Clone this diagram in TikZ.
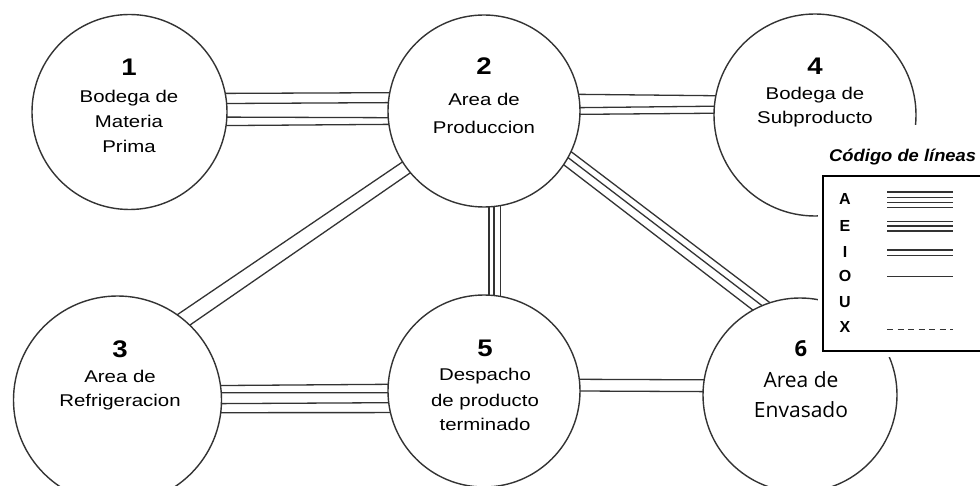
\documentclass[tikz,border=0pt]{standalone}
\usepackage{fontspec}
\setmainfont{Liberation Sans}
\newfontfamily\wfont[FakeStretch=1.2]{Liberation Sans}
\newfontfamily\nfont[FakeStretch=1.15]{Liberation Sans}
\newfontfamily\sfont{Open Sans}
\newfontfamily\tfont[FakeStretch=1.08]{Liberation Sans}
\definecolor{lc}{HTML}{333333}
\begin{document}
\begin{tikzpicture}[x=1pt,y=-1pt,
  area/.style={circle,draw=lc,line width=1.4pt,fill=white,inner sep=0pt,outer sep=0pt},
  conn/.style={draw=lc,line width=1.3pt},
  legline/.style={draw=lc,line width=1.2pt},
  num/.style={anchor=base,inner sep=0pt,font=\nfont\bfseries\fontsize{24}{24}\selectfont},
  lbl/.style={anchor=base,inner sep=0pt,font=\wfont\fontsize{17}{17}\selectfont},
  sixnum/.style={anchor=base,inner sep=0pt,font=\sfont\bfseries\fontsize{22}{22}\selectfont},
  sixlbl/.style={anchor=base,inner sep=0pt,font=\sfont\fontsize{21}{21}\selectfont},
  letter/.style={anchor=base,inner sep=0pt,font=\bfseries\fontsize{16}{16}\selectfont},
  legbox/.style={draw=black,line width=2.2pt,fill=white,inner sep=0pt,outer sep=0pt,anchor=north west}]
\useasboundingbox (0,0) rectangle (980,486);
\clip (0,0) rectangle (980,486);
\fill[white] (0,0) rectangle (980,486);

% areas
\node[area,minimum size=195pt] (n1) at (129.5,112) {};
\node[area,minimum size=192pt] (n2) at (484,111) {};
\node[area,minimum size=202pt] (n4) at (815,115) {};
\node[area,minimum size=208pt] (n3) at (117.5,400) {};
\node[area,minimum size=192pt] (n5) at (484,391) {};
\node[area,minimum size=194pt] (n6) at (800,395) {};

% 1-2 : A (4 lines)
\draw[conn] (n1.11) -- (n2.169);
\draw[conn] (n1.5) -- (n2.175);
\draw[conn] (n1.-3) -- (n2.184);
\draw[conn] (n1.-8) -- (n2.188);
% 2-4 : E (3 lines)
\draw[conn] (n2.10) -- (n4.169);
\draw[conn] (n2.2) -- (n4.175);
\draw[conn] (n2.-2) -- (n4.179);
% 2-5 : E (3 lines)
\draw[conn] (n2.-87) -- (n5.87);
\draw[conn] (n2.-84) -- (n5.84);
\draw[conn] (n2.-80) -- (n5.80);
% 2-3 : I (2 lines)
\draw[conn] (n2.212) -- (n3.55);
\draw[conn] (n2.220) -- (n3.46);
% 2-6 : E (3 lines)
\draw[conn] (n2.-25) -- (n6.108);
\draw[conn] (n2.-29) -- (n6.113);
\draw[conn] (n2.-34) -- (n6.119);
% 3-5 : A (4 lines)
\draw[conn] (n3.8) -- (n5.176);
\draw[conn] (n3.4) -- (n5.181);
\draw[conn] (n3.-2) -- (n5.187);
\draw[conn] (n3.-7) -- (n5.193);
% 5-6 : I (2 lines)
\draw[conn] (n5.7) -- (n6.171);
\draw[conn] (n5.0) -- (n6.178);

% texts
\node[num] (t1) at (129,76) {1};
\node[lbl] (t1a) at (129,103) {Bodega de};
\node[lbl] (t1b) at (129,128) {Materia};
\node[lbl] (t1c) at (129,153) {Prima};

\node[num] (t2) at (484,75) {2};
\node[lbl] (t2a) at (484,106) {Area de};
\node[lbl] (t2b) at (484,134) {Produccion};

\node[num] (t4) at (815,75) {4};
\node[lbl] (t4a) at (815,100) {Bodega de};
\node[lbl] (t4b) at (815,124) {Subproducto};

\node[num] (t3) at (120,357) {3};
\node[lbl] (t3a) at (120,382) {Area de};
\node[lbl] (t3b) at (120,406) {Refrigeracion};

\node[num] (t5) at (485,356) {5};
\node[lbl] (t5a) at (485,381) {Despacho};
\node[lbl] (t5b) at (485,406) {de producto};
\node[lbl] (t5c) at (485,430) {terminado};

\node[sixnum] (t6) at (801,356) {6};
\node[sixlbl] (t6a) at (801,387) {Area de};
\node[sixlbl] (t6b) at (801,417) {Envasado};

% legend
\fill[white] (818,125) rectangle (980,357);
\node[anchor=base west,inner sep=0pt,font=\tfont\bfseries\itshape\fontsize{17}{17}\selectfont] (title) at (829,162) {Código de líneas};
\node[legbox,minimum width=175pt,minimum height=175pt] (leg) at (823,176) {};
\node[letter] (lA) at (845,205) {A};
\node[letter] (lE) at (845,232) {E};
\node[letter] (lI) at (845,258) {I};
\node[letter] (lO) at (845,282) {O};
\node[letter] (lU) at (845,308) {U};
\node[letter] (lX) at (845,333) {X};
\foreach \yy in {192,197.5,202.5,207.5} \draw[legline] (887,\yy) -- (953,\yy);
\foreach \yy in {221.5,226,231} \draw[legline] (887,\yy) -- (953,\yy);
\foreach \yy in {250,255.5} \draw[legline] (887,\yy) -- (953,\yy);
\draw[legline] (887,276.5) -- (953,276.5);
\draw[legline,dash pattern=on 6pt off 4.5pt] (887,329.5) -- (953,329.5);
\end{tikzpicture}
\end{document}
